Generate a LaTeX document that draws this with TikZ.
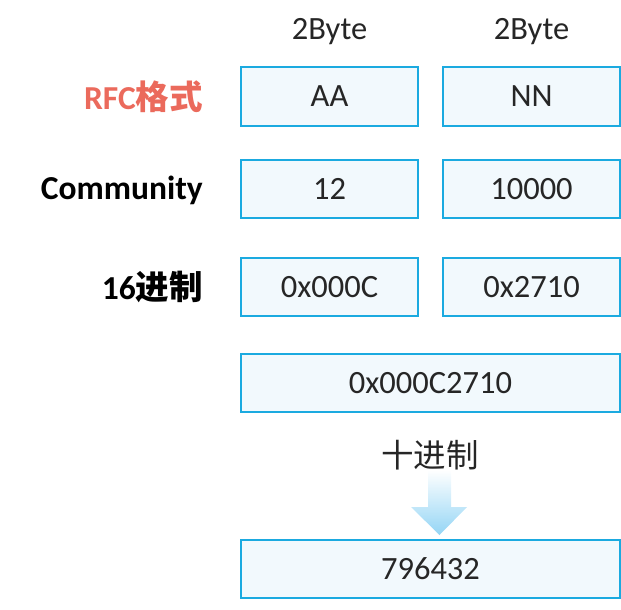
\documentclass[tikz,border=0pt]{standalone}
\usepackage{fontspec}
\setmainfont{Carlito}
\newfontfamily\cjk{Noto Sans CJK SC}
\definecolor{boxline}{HTML}{1BAAE0}
\definecolor{boxfill}{HTML}{F2F9FD}
\definecolor{rfcred}{HTML}{EB6A5C}
\definecolor{arrowblue}{HTML}{94D5F5}
\tikzset{
  cell/.style={draw=boxline, line width=2pt, fill=boxfill, minimum width=177pt, minimum height=58pt, inner sep=0pt, font=\fontsize{32.5}{36}\selectfont, text=black!85},
  wide/.style={cell, minimum width=379pt},
  lbl/.style={anchor=east, inner sep=0pt, font=\fontsize{33.5}{36}\selectfont\bfseries},
  hdr/.style={inner sep=0pt, font=\fontsize{32.5}{36}\selectfont, text=black!85}
}
\begin{document}
\begin{tikzpicture}[x=1pt,y=-1pt]
\useasboundingbox (0,0) rectangle (621,610);
\node[hdr] (h1) at (329.5,32) {2Byte};
\node[hdr] (h2) at (531.5,32) {2Byte};
\node[cell] (aa) at (329.5,96.5) {AA};
\node[cell] (nn) at (531.5,96.5) {NN};
\node[cell] (c12) at (329.5,189) {12};
\node[cell] (c10000) at (531.5,189) {10000};
\node[cell] (hx1) at (329.5,287) {0x000C};
\node[cell] (hx2) at (531.5,287) {0x2710};
\node[wide] (full) at (430.5,383) {0x000C2710};
\node[wide] (dec) at (430.5,569) {796432};
\node[lbl, text=rfcred] (l1) at (203,97) {RFC{\cjk 格式}};
\node[lbl] (l2) at (203,190) {Community};
\node[lbl] (l3) at (203,287) {16{\cjk 进制}};
\node[hdr] (conv) at (430,455) {\cjk 十进制};
\shade[top color=white, bottom color=arrowblue, draw=none]
  (428,470) -- (451,470) -- (451,507) -- (467,507) -- (439.5,535) -- (411,507) -- (428,507) -- cycle;
\end{tikzpicture}
\end{document}
